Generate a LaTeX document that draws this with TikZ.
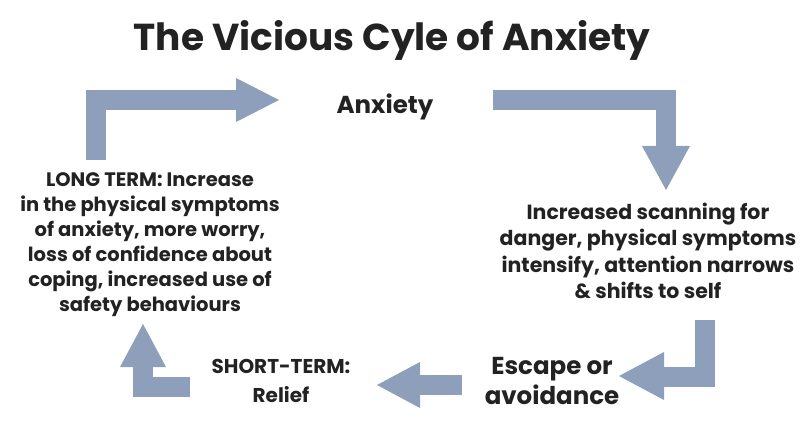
\documentclass[tikz,border=0pt]{standalone}
\usepackage{fontspec}
\setmainfont{Poppins}
\definecolor{cyclearrow}{HTML}{8D9FBA}
\definecolor{cycletext}{HTML}{222222}
\tikzset{
  shaft/.style={cyclearrow, line width=20pt, line join=miter},
  head/.style={fill=cyclearrow},
  label/.style={text=cycletext, font=\bfseries\fontsize{19.5}{25}\selectfont, align=center, inner sep=0pt},
  biglabel/.style={text=cycletext, font=\bfseries\fontsize{24.5}{30}\selectfont, align=center, inner sep=0pt}
}
\begin{document}
\begin{tikzpicture}[x=1pt,y=-1pt]
  \useasboundingbox (0,0) rectangle (800,427);
  \node[text=cycletext, font=\bfseries\fontsize{37.5}{44}\selectfont] (title) at (392,40) {The Vicious Cyle of Anxiety};
  \node[biglabel] (anxiety) at (385,107) {Anxiety};
  \node[label, font=\bfseries\fontsize{20.5}{26.5}\selectfont] (scan) at (648,251) {Increased scanning for\\danger, physical symptoms\\intensify, attention narrows\\\& shifts to self};
  \node[label] (long) at (150,245) {LONG TERM: Increase\\in the physical symptoms\\of anxiety, more worry,\\loss of confidence about\\coping, increased use of\\safety behaviours};
  \node[biglabel] (escape) at (552,381) {Escape or\\avoidance};
  \node[label, font=\bfseries\fontsize{20}{29}\selectfont] (short) at (281,381) {SHORT-TERM:\\Relief};
  % long term -> anxiety
  \draw[shaft] (96,160) -- (96,100) -- (238,100);
  \fill[head] (236,78) -- (279,100) -- (236,122) -- cycle;
  % anxiety -> scanning
  \draw[shaft] (493,100) -- (666,100) -- (666,148);
  \fill[head] (642,146) -- (690,146) -- (666,190) -- cycle;
  % scanning -> escape
  \draw[shaft] (705,320) -- (705,377) -- (662,377);
  \fill[head] (664,352) -- (664,400) -- (619,376) -- cycle;
  % escape -> short term
  \draw[shaft] (462,385) -- (418,385);
  \fill[head] (420,362) -- (420,408) -- (377,385) -- cycle;
  % short term -> long term
  \draw[shaft] (190,387) -- (143,387) -- (143,365);
  \fill[head] (120,367) -- (166,367) -- (143,324) -- cycle;
\end{tikzpicture}
\end{document}
